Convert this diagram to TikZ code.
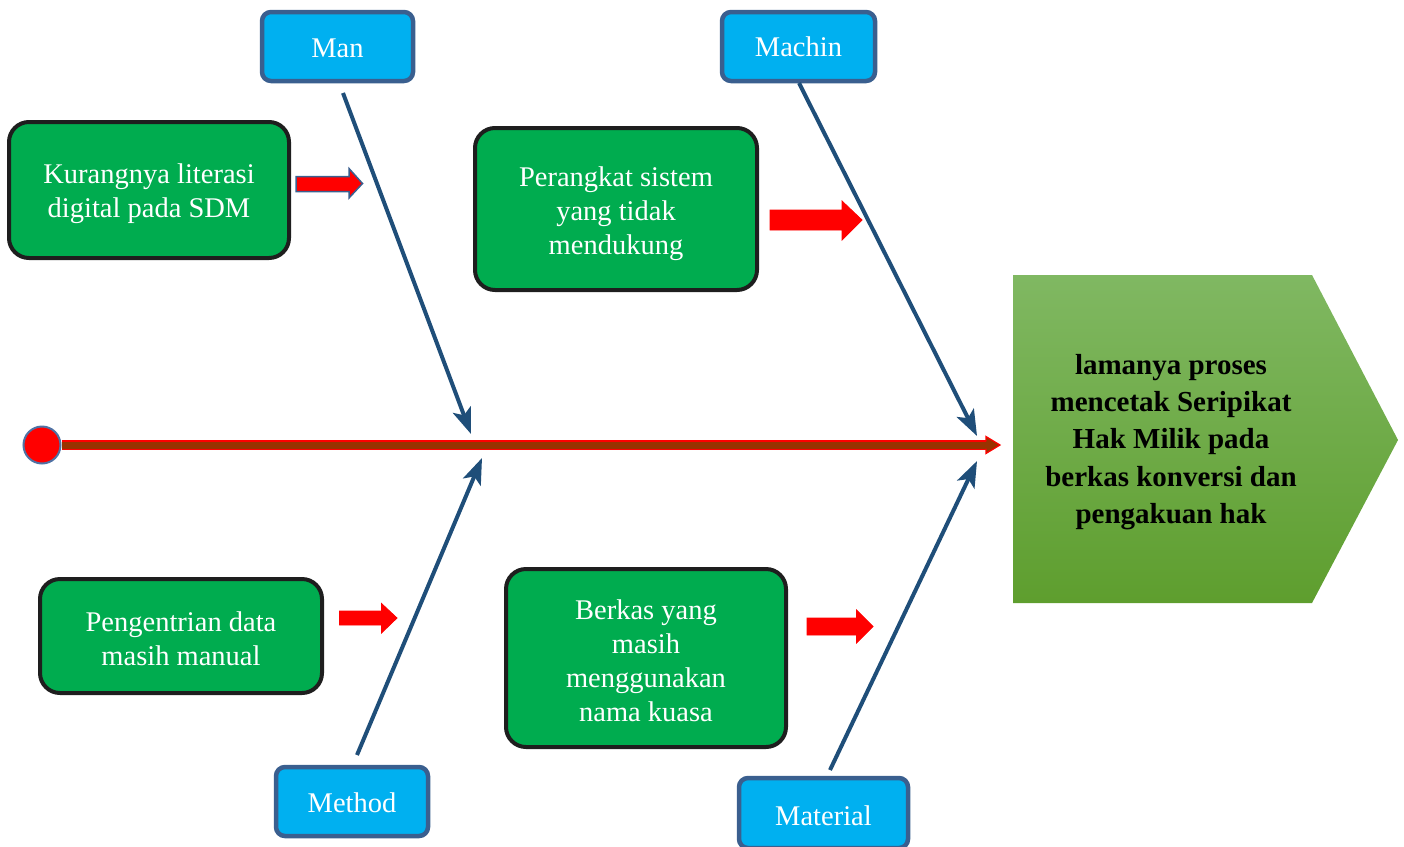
\documentclass[tikz,border=0pt]{standalone}
\usepackage{fontspec}
\setmainfont{Liberation Serif}
\usetikzlibrary{arrows.meta}
\definecolor{boneblue}{HTML}{1F4E79}
\definecolor{labelfill}{HTML}{00B0F0}
\definecolor{labeledge}{HTML}{3A5F8F}
\definecolor{causegreen}{HTML}{00AC4F}
\definecolor{causeedge}{HTML}{1E1E1E}
\definecolor{spinebrown}{HTML}{993300}
\definecolor{headtop}{HTML}{80B862}
\definecolor{headbot}{HTML}{5E9E2E}
\definecolor{dotedge}{HTML}{4F72A4}
\tikzset{
  labelbox/.style={draw=labeledge, line width=4.5pt, fill=labelfill, rounded corners=9pt, inner sep=0pt},
  labeltext/.style={text=white, font=\fontsize{28.5}{33}\selectfont, inner sep=0pt, align=center},
  causebox/.style={draw=causeedge, line width=4pt, fill=causegreen, rounded corners=20pt, inner sep=0pt},
  causetext/.style={text=white, font=\fontsize{28.5}{34}\selectfont, inner sep=0pt, align=center},
  bone/.style={draw=boneblue, line width=4pt, -{Stealth[length=26pt,width=19pt,inset=6pt]}},
  blockarrow/.style={fill=red, draw=red, line width=0.8pt},
}
\begin{document}
\begin{tikzpicture}[x=1pt,y=-1pt]
\useasboundingbox (0,0) rectangle (1404,846);

% label boxes
\node[labelbox, minimum width=151, minimum height=69] (man) at (337.5,46.5) {};
\node[labeltext] (mantext) at ([yshift=-2pt]man.center) {Man};
\node[labelbox, minimum width=153, minimum height=69] (machin) at (798.5,46.5) {};
\node[labeltext] (machintext) at (machin.center) {Machin};
\node[labelbox, minimum width=152, minimum height=69] (method) at (352,801.5) {};
\node[labeltext] (methodtext) at ([yshift=-1pt]method.center) {Method};
\node[labelbox, minimum width=169, minimum height=70] (material) at (823.5,813) {};
\node[labeltext] (materialtext) at ([yshift=-3pt]material.center) {Material};

% cause boxes
\node[causebox, minimum width=280, minimum height=136] (kurang) at (149,190) {};
\node[causetext] (kurangtext) at ([yshift=-4pt]kurang.center) {Kurangnya literasi\\digital pada SDM};
\node[causebox, minimum width=282, minimum height=162] (perangkat) at (616,209) {};
\node[causetext] (perangkattext) at ([yshift=-5pt]perangkat.center) {Perangkat sistem\\yang tidak\\mendukung};
\node[causebox, minimum width=282, minimum height=114] (pengentrian) at (181,636) {};
\node[causetext] (pengentriantext) at ([yshift=-2.5pt]pengentrian.center) {Pengentrian data\\masih manual};
\node[causebox, minimum width=280, minimum height=178] (berkas) at (646,658) {};
\node[causetext] (berkastext) at ([yshift=-2.5pt]berkas.center) {Berkas yang\\masih\\menggunakan\\nama kuasa};

% effect head
\shade[top color=headtop, bottom color=headbot] (1013,275) -- (1312,275) -- (1398,440) -- (1312,603) -- (1013,603) -- cycle;
\node[font=\bfseries\fontsize{29}{37.3}\selectfont, align=center, text=black, inner sep=0pt] (effect) at (1171,442)
  {lamanya proses\\mencetak Seripikat\\Hak Milik pada\\berkas konversi dan\\pengakuan hak};

% spine
\node[circle, fill=red, draw=dotedge, line width=2pt, minimum size=37pt, inner sep=0pt] (dot) at (42,445) {};
\coordinate (spineend) at (988,445);
\draw[draw=red, line width=1.3pt, double=spinebrown, double distance=7pt] (dot.east) -- (spineend);
\fill[spinebrown, draw=red, line width=1.2pt] (986,441.4) -- (986,436.5) -- (1000,445) -- (986,453.5) -- (986,448.6);

% bones
\coordinate (manstart) at (343,93);
\coordinate (mantip) at (471,434);
\coordinate (machinstart) at (799,83);
\coordinate (machintip) at (977,436);
\coordinate (methodstart) at (357,755);
\coordinate (methodtip) at (482,458);
\coordinate (materialstart) at (830,770);
\coordinate (materialtip) at (977,461);
\draw[bone] (manstart) -- (mantip);
\draw[bone] (machinstart) -- (machintip);
\draw[bone] (methodstart) -- (methodtip);
\draw[bone] (materialstart) -- (materialtip);

% red block arrows
\draw[blockarrow, draw=labeledge, line width=1.5pt] (296,176.5) -- (349,176.5) -- (349,168.5) -- (362.5,183.5) -- (349,198) -- (349,191.5) -- (296,191.5) -- cycle;
\draw[blockarrow] (770,210) -- (842,210) -- (842,201) -- (862,220) -- (842,240) -- (842,230) -- (770,230) -- cycle;
\draw[blockarrow] (339.5,611) -- (381.5,611) -- (381.5,603.5) -- (397,618) -- (381.5,633) -- (381.5,625) -- (339.5,625) -- cycle;
\draw[blockarrow] (807,618) -- (856.5,618) -- (856.5,610) -- (873,626.5) -- (856.5,643) -- (856.5,635) -- (807,635) -- cycle;
\end{tikzpicture}
\end{document}
